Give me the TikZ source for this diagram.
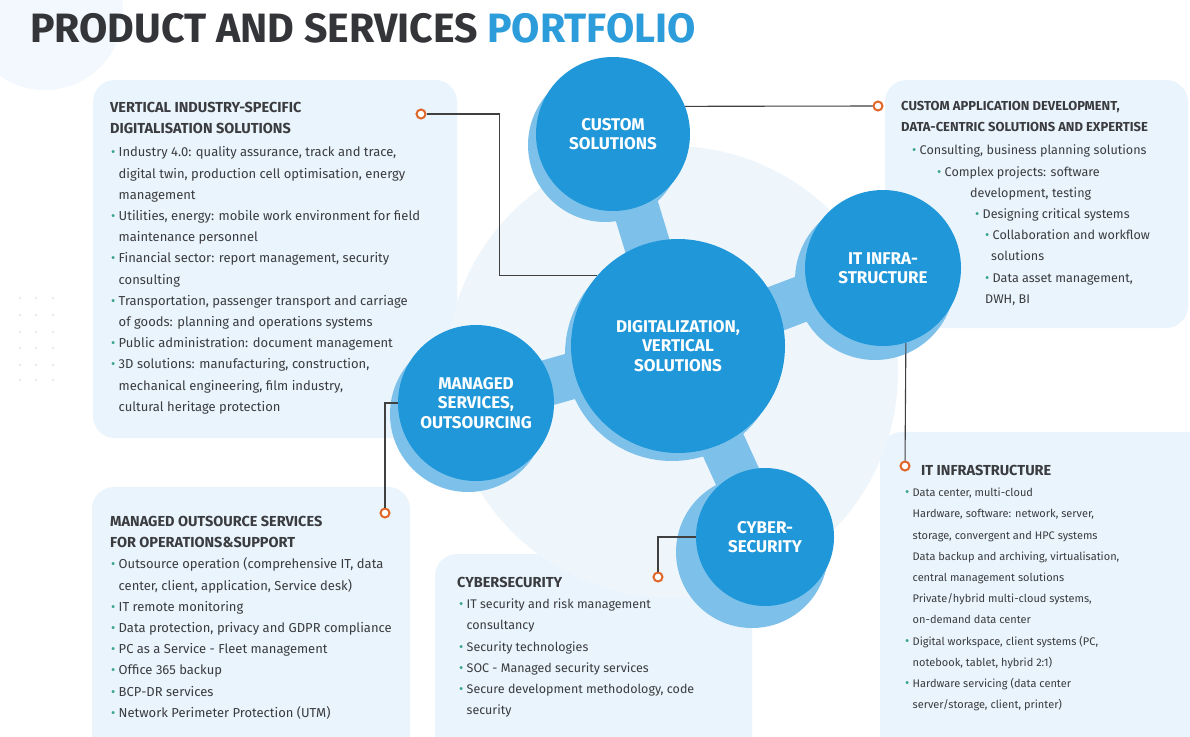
\documentclass[tikz,border=0pt]{standalone}
\usepackage{xcolor}
\usepackage{graphicx}
\usepackage{fontspec}
\setmainfont{Fira Sans}
\usepackage{tikz}
\usetikzlibrary{positioning}
\definecolor{circblue}{HTML}{1F97D9}
\definecolor{shadeblue}{HTML}{7DC1EA}
\definecolor{panelblue}{HTML}{EAF4FC}
\definecolor{faintblue}{HTML}{EEF6FC}
\definecolor{cornerblue}{HTML}{F2F8FD}
\definecolor{titlegray}{HTML}{333538}
\definecolor{titleblue}{HTML}{2C9CDA}
\definecolor{bodygray}{HTML}{3A3C3F}
\definecolor{dotgreen}{HTML}{3AA58C}
\definecolor{ringorange}{HTML}{E0662A}
\newcommand{\bul}{\makebox[7.5pt][l]{\textcolor{dotgreen}{\fontsize{13}{13}\selectfont\textbullet}}}
\newcommand{\hd}[1]{{\fontsize{14.5}{21.2}\selectfont\bfseries #1}}

\begin{document}
\begin{tikzpicture}[x=1pt,y=-1pt]
	\tikzstyle{panel} = [fill=panelblue, rounded corners=22pt]
	\tikzstyle{bubble} = [circle, fill=circblue, text=white, inner sep=0, align=center, font=\fontsize{17}{19.5}\selectfont\bfseries]
	\tikzstyle{bridge} = [shadeblue, line width=46pt]
	\tikzstyle{conn} = [black!75, line width=1.1pt]
	\tikzstyle{ring} = [circle, draw=ringorange, fill=white, line width=2pt, minimum size=9pt, inner sep=0]
	\tikzstyle{paneltext} = [anchor=north west, align=left, inner sep=0, text=bodygray, font=\fontsize{13}{21.2}\selectfont]
	\useasboundingbox (0,0) rectangle (1190,736);
	\fill[white] (0,0) rectangle (1190,736);
	
	% background shapes
	\fill[cornerblue] (45,12) circle (78pt);
	\fill[panel] (93,80) rectangle (457,438);
	\fill[panel] (885,80) rectangle (1188,328);
	\fill[panel] (880,432) rectangle (1215,760);
	\fill[panel] (92,487) rectangle (410,760);
	\fill[panel] (435,554) rectangle (752,760);
	\fill[faintblue] (672,372) circle (226pt);
	\foreach \i in {20,36,53}
		\foreach \j in {298,315,332,348,365,380}
			\fill[black!8] (\i,\j) circle (1.3pt);
	
	\node[anchor=base west, inner sep=0, font=\fontsize{41}{41}\selectfont\bfseries] (title) at (30,42) {\textcolor{titlegray}{PRODUCT AND SERVICES} \textcolor{titleblue}{PORTFOLIO}};
	
	% bubbles
	\draw[bridge] (678,346) -- (613,133);
	\draw[bridge] (678,346) -- (883,268);
	\draw[bridge] (678,346) -- (476,403);
	\draw[bridge] (678,346) -- (765,537);
	\fill[shadeblue] (605,145) circle (77pt);
	\fill[shadeblue] (875,280) circle (80pt);
	\fill[shadeblue] (468,414) circle (78pt);
	\fill[shadeblue] (752,552) circle (76pt);
	\fill[shadeblue] (672,354) circle (107pt);
	\node[bubble, minimum size=214pt] (cent) at (678,346) {DIGITALIZATION,\\VERTICAL\\SOLUTIONS};
	\node[bubble, minimum size=154pt] (cust) at (613,134) {CUSTOM\\SOLUTIONS};
	\node[bubble, minimum size=156pt] (itc) at (883,268) {IT INFRA-\\STRUCTURE};
	\node[bubble, minimum size=156pt] (mng) at (476,403) {MANAGED\\SERVICES,\\OUTSOURCING};
	\node[bubble, minimum size=138pt] (cyb) at (765,537) {CYBER-\\SECURITY};
	
	% connectors
	\node[ring] (rVert) at (421,114) {};
	\node[ring] (rApp) at (878,106) {};
	\node[ring] (rMng) at (385,513) {};
	\node[ring] (rInf) at (905,466) {};
	\node[ring] (rSec) at (658,577) {};
	\draw[conn] (cent.139) -- ++(-98,0) |- (rVert);
	\draw[conn] (cust.21.5) -- (rApp);
	\draw[conn] (mng.west) -| (rMng);
	\draw[conn] (itc.-73.6) -- (rInf);
	\draw[conn] (cyb.west) -| (rSec);
	
	% panel texts
	\node[paneltext] (tVert) at (110,102) {\hd{VERTICAL INDUSTRY-SPECIFIC}\\\hd{DIGITALISATION SOLUTIONS}\\[2pt]
		\hspace*{1pt}\bul Industry 4.0: quality assurance, track and trace,\\
		\hspace*{8.5pt}digital twin, production cell optimisation, energy\\
		\hspace*{8.5pt}management\\
		\hspace*{1pt}\bul Utilities, energy: mobile work environment for field\\
		\hspace*{8.5pt}maintenance personnel\\
		\hspace*{1pt}\bul Financial sector: report management, security\\
		\hspace*{8.5pt}consulting\\
		\hspace*{1pt}\bul Transportation, passenger transport and carriage\\
		\hspace*{8.5pt}of goods: planning and operations systems\\
		\hspace*{1pt}\bul Public administration: document management\\
		\hspace*{1pt}\bul 3D solutions: manufacturing, construction,\\
		\hspace*{8.5pt}mechanical engineering, film industry,\\
		\hspace*{8.5pt}cultural heritage protection};
	\node[paneltext, font=\fontsize{12.6}{21.2}\selectfont] (tApp) at (901,101) {{\fontsize{13}{21.2}\selectfont\bfseries CUSTOM APPLICATION DEVELOPMENT,}\\{\fontsize{13}{21.2}\selectfont\bfseries DATA-CENTRIC SOLUTIONS AND EXPERTISE}\\[2pt]
		\hspace*{11pt}\bul Consulting, business planning solutions\\
		\hspace*{36pt}\bul Complex projects: software\\
		\hspace*{69pt}development, testing\\
		\hspace*{74pt}\bul Designing critical systems\\
		\hspace*{84pt}\bul Collaboration and workflow\\
		\hspace*{90pt}solutions\\
		\hspace*{84pt}\bul Data asset management,\\
		\hspace*{84pt}DWH, BI};
	\node[paneltext, font=\fontsize{11}{21.2}\selectfont] (tInf) at (905,465) {\hspace*{16pt}\hd{IT INFRASTRUCTURE}\\
		\bul Data center, multi-cloud\\
		\hspace*{7.5pt}Hardware, software: network, server,\\
		\hspace*{7.5pt}storage, convergent and HPC systems\\
		\hspace*{7.5pt}Data backup and archiving, virtualisation,\\
		\hspace*{7.5pt}central management solutions\\
		\hspace*{7.5pt}Private/hybrid multi-cloud systems,\\
		\hspace*{7.5pt}on-demand data center\\
		\bul Digital workspace, client systems (PC,\\
		\hspace*{7.5pt}notebook, tablet, hybrid 2:1)\\
		\bul Hardware servicing (data center\\
		\hspace*{7.5pt}server/storage, client, printer)};
	\node[paneltext] (tMng) at (110,516) {\hd{MANAGED OUTSOURCE SERVICES}\\\hd{FOR OPERATIONS\&SUPPORT}\\
		\hspace*{1pt}\bul Outsource operation (comprehensive IT, data\\
		\hspace*{8.5pt}center, client, application, Service desk)\\
		\hspace*{1pt}\bul IT remote monitoring\\
		\hspace*{1pt}\bul Data protection, privacy and GDPR compliance\\
		\hspace*{1pt}\bul PC as a Service - Fleet management\\
		\hspace*{1pt}\bul Office 365 backup\\
		\hspace*{1pt}\bul BCP-DR services\\
		\hspace*{1pt}\bul Network Perimeter Protection (UTM)};
	\node[paneltext, font=\fontsize{12.5}{21.2}\selectfont] (tSec) at (457,577) {\hd{CYBERSECURITY}\\
		\hspace*{2pt}\bul IT security and risk management\\
		\hspace*{9.5pt}consultancy\\
		\hspace*{2pt}\bul Security technologies\\
		\hspace*{2pt}\bul SOC - Managed security services\\
		\hspace*{2pt}\bul Secure development methodology, code\\
		\hspace*{9.5pt}security};
\end{tikzpicture}
\end{document}
